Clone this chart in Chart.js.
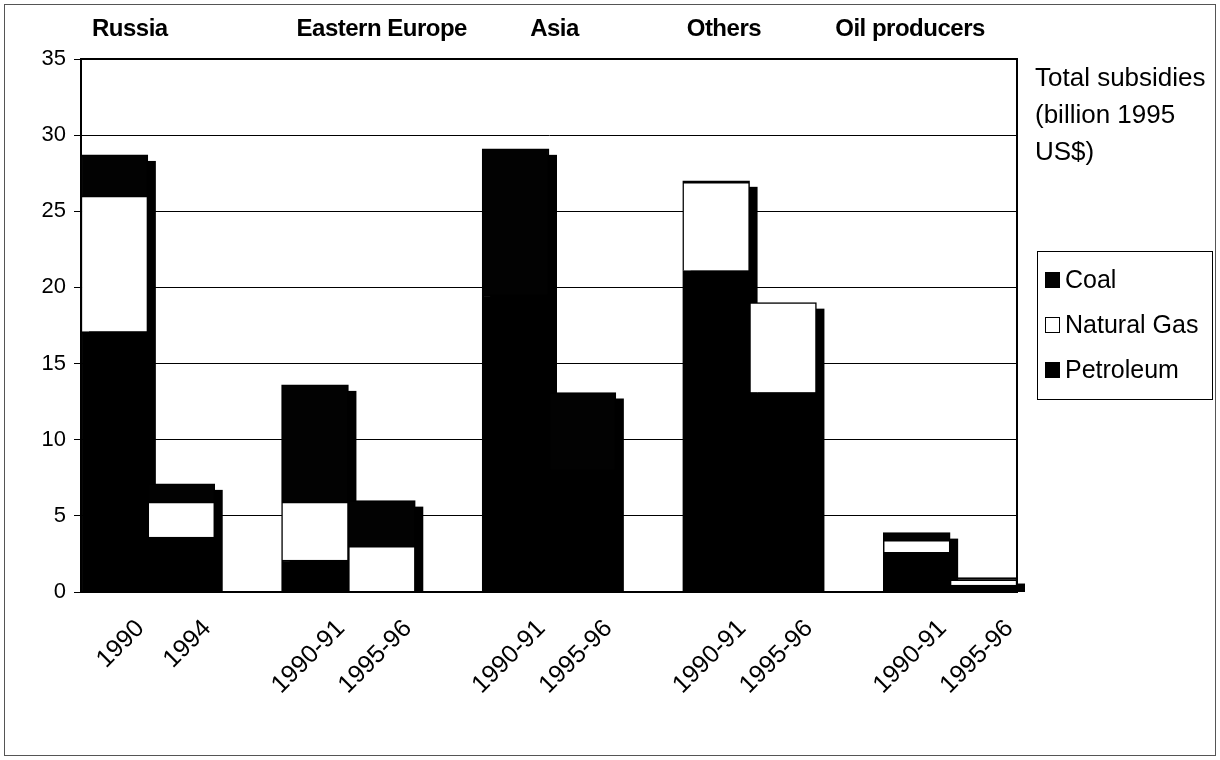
<!DOCTYPE html>
<html>
<head>
<meta charset="utf-8">
<script src="https://cdn.jsdelivr.net/npm/chart.js@4.4.1/dist/chart.umd.min.js"></script>
<style>
  html, body { margin: 0; padding: 0; background: #fff; }
  #wrap { width: 1220px; height: 760px; }
</style>
</head>
<body>
<div id="wrap"><canvas id="graficoSubsidios" width="1220" height="760"></canvas></div>
<script>
// Dados (bilhões de US$ de 1995); as posições vazias separam os grupos
const categorias = ['1990', '1994', '', '1990-91', '1995-96', '', '1990-91', '1995-96', '', '1990-91', '1995-96', '', '1990-91', '1995-96'];
const grupos = ['Russia', 'Eastern Europe', 'Asia', 'Others', 'Oil producers'];
const inicioGrupo = [0, 3, 6, 9, 12];
const petroleo = [17.1, 3.6, null, 2.1, 0, null, 19.5, 8.0, null, 21.1, 13.1, null, 2.6, 0.45];
const gasNatural = [8.9, 2.3, null, 3.8, 3.0, null, 0, 0, null, 5.8, 5.9, null, 0.8, 0.35];
const carvao = [2.7, 1.2, null, 7.7, 3.0, null, 9.6, 5.1, null, 0.1, 0, null, 0.5, 0.15];
const ticksY = [0, 5, 10, 15, 20, 25, 30, 35];
const tituloLateral = ['Total subsidies', '(billion 1995', 'US$)'];

const FONTE = "'Liberation Sans', Arial, sans-serif";

// desloca o texto de cada grupo em relação à borda esquerda da primeira barra
const ajusteGrupo = [11, 15, 48, 4, -48];

// sombra preta deslocada atrás de cada barra empilhada
const sombraBarras = {
    id: 'sombraBarras',
    beforeDatasetsDraw(chart) {
        const ctx = chart.ctx;
        const y = chart.scales.y;
        const base = y.getPixelForValue(0);
        const meta = chart.getDatasetMeta(0);
        ctx.save();
        ctx.fillStyle = '#000';
        chart.data.labels.forEach((_, i) => {
            let total = 0;
            chart.data.datasets.forEach(ds => { total += ds.data[i] || 0; });
            if (!total) return;
            const barra = meta.data[i];
            const topo = y.getPixelForValue(total);
            ctx.fillRect(barra.x - barra.width / 2 + 8, topo + 6, barra.width, base - topo - 6);
        });
        ctx.restore();
    }
};

// moldura, nomes dos grupos, título lateral e legenda com caixa
const textosExtras = {
    id: 'textosExtras',
    afterDraw(chart) {
        const ctx = chart.ctx;
        const area = chart.chartArea;
        const x = chart.scales.x;
        const meta = chart.getDatasetMeta(0);
        ctx.save();

        // moldura externa
        ctx.strokeStyle = '#555';
        ctx.lineWidth = 1;
        ctx.strokeRect(4.5, 4.5, chart.width - 9, chart.height - 9);

        // moldura da área do gráfico
        ctx.strokeStyle = '#000';
        ctx.lineWidth = 2;
        ctx.strokeRect(area.left, area.top, area.right - area.left, area.bottom - area.top);

        // nomes dos grupos
        ctx.fillStyle = '#000';
        ctx.font = 'bold 24px ' + FONTE;
        ctx.letterSpacing = '-0.5px';
        ctx.textAlign = 'left';
        ctx.textBaseline = 'alphabetic';
        grupos.forEach((nome, g) => {
            const barra = meta.data[inicioGrupo[g]];
            const esq = x.getPixelForValue(inicioGrupo[g]) - barra.width / 2;
            ctx.fillText(nome, esq + ajusteGrupo[g], 36);
        });
        ctx.letterSpacing = '0px';

        // título ao lado
        ctx.font = '26px ' + FONTE;
        ctx.textBaseline = 'middle';
        tituloLateral.forEach((linha, i) => {
            ctx.fillText(linha, area.right + 18, 79 + i * 37);
        });

        // legenda (ordem inversa, como no original)
        const lx = area.right + 20;
        const ly = 251;
        ctx.lineWidth = 1;
        ctx.strokeStyle = '#000';
        ctx.strokeRect(lx + 0.5, ly + 0.5, 175, 148);
        ctx.font = '25px ' + FONTE;
        const itens = chart.data.datasets.slice().reverse();
        itens.forEach((ds, i) => {
            const cy = ly + 29 + i * 45;
            ctx.fillStyle = ds.backgroundColor;
            ctx.fillRect(lx + 8, cy - 8, 15, 16);
            ctx.strokeRect(lx + 8.5, cy - 7.5, 14, 15);
            ctx.fillStyle = '#000';
            ctx.fillText(ds.label, lx + 28, cy + 1);
        });

        ctx.restore();
    }
};

document.addEventListener('DOMContentLoaded', function () {
    const ctx = document.getElementById('graficoSubsidios').getContext('2d');
    const estiloBarra = { borderColor: '#000', borderWidth: 1.5, barPercentage: 1, categoryPercentage: 1 };

    new Chart(ctx, {
        type: 'bar',
        data: {
            labels: categorias,
            datasets: [
                { label: 'Petroleum', data: petroleo, backgroundColor: '#000', ...estiloBarra },
                { label: 'Natural Gas', data: gasNatural, backgroundColor: '#fff', ...estiloBarra },
                { label: 'Coal', data: carvao, backgroundColor: '#020202', ...estiloBarra }
            ]
        },
        options: {
            responsive: false,
            animation: false,
            layout: { padding: { top: 59, right: 203, bottom: 0, left: 0 } },
            plugins: {
                legend: { display: false },
                tooltip: { enabled: false }
            },
            scales: {
                x: {
                    stacked: true,
                    grid: { display: false, drawTicks: false },
                    border: { display: true, color: '#000', width: 1.5 },
                    ticks: {
                        color: '#000',
                        font: { family: FONTE, size: 25 },
                        autoSkip: false,
                        minRotation: 45,
                        maxRotation: 45,
                        labelOffset: 26,
                        padding: 22
                    },
                    afterFit(scale) { scale.height = 168; }
                },
                y: {
                    stacked: true,
                    min: 0,
                    max: 35,
                    afterBuildTicks(scale) { scale.ticks = ticksY.map(v => ({ value: v })); },
                    grid: { color: '#000', lineWidth: 1, tickLength: 7 },
                    border: { display: true, color: '#000', width: 2 },
                    ticks: {
                        color: '#000',
                        font: { family: FONTE, size: 22 },
                        padding: 8
                    },
                    afterFit(scale) { scale.width = 81; }
                }
            }
        },
        plugins: [sombraBarras, textosExtras]
    });
});
</script>
</body>
</html>
